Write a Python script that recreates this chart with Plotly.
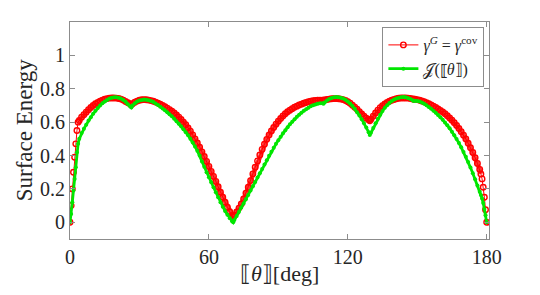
import plotly.graph_objects as go

# misorientation angle grid [deg]
theta_deg = [0, 0.5, 1, 1.5, 2, 2.5, 3, 3.5,
             4, 5, 6, 7, 8, 9, 10, 11, 12, 13, 14, 15, 16, 17, 18, 19, 20, 21, 22, 23, 24, 25, 26,
             26.5,
             27, 28, 29, 30, 31, 32, 33, 34, 35, 36, 37, 38, 39, 40, 41, 42, 43, 44, 45, 46, 47, 48,
             49, 50, 51, 52, 53, 54, 55, 56, 57, 58, 59, 60, 61, 62, 63, 64, 65, 66, 67, 68, 69, 70,
             70.5,
             71, 72, 73, 74, 75, 76, 77, 78, 79, 80, 81, 82, 83, 84, 85, 86, 87, 88, 89, 90, 91, 92,
             93, 94, 95, 96, 97, 98, 99, 100, 101, 102, 103, 104, 105, 106, 107, 108, 109,
             109.5,
             110, 111, 112, 113, 114, 115, 116, 117, 118, 119, 120, 121, 122, 123, 124, 125, 126, 127, 128, 129,
             129.5,
             130, 131, 132, 133, 134, 135, 136, 137, 138, 139, 140, 141, 142, 143, 144, 145, 146, 147, 148,
             148.5,
             149, 150, 151, 152, 153, 154, 155, 156, 157, 158, 159, 160, 161, 162, 163, 164, 165, 166, 167,
             168, 169, 170, 171, 172, 173, 174, 175, 176, 177,
             177.5, 178, 178.5, 179, 179.5, 180]

# gamma^G = gamma^cov (red)
gamma_cov = [0, 0.10, 0.20, 0.30, 0.39, 0.47, 0.55, 0.60,
             0.61, 0.63, 0.645, 0.66, 0.675, 0.688, 0.70, 0.71, 0.718, 0.725, 0.732, 0.737, 0.741, 0.744,
             0.745, 0.745, 0.744, 0.742, 0.738, 0.732, 0.724, 0.716, 0.709,
             0.705,
             0.711, 0.719, 0.726, 0.731, 0.734, 0.735, 0.734, 0.732, 0.729, 0.725, 0.72, 0.714, 0.707, 0.70,
             0.692, 0.684, 0.675, 0.665, 0.655, 0.643, 0.63, 0.616, 0.60, 0.585, 0.566, 0.546, 0.524, 0.50,
             0.475, 0.45, 0.422, 0.394, 0.365, 0.335, 0.305, 0.275, 0.245, 0.213, 0.18, 0.15, 0.12, 0.09,
             0.063, 0.04,
             0.03,
             0.042, 0.062, 0.085, 0.11, 0.14, 0.175, 0.21, 0.25, 0.29, 0.33, 0.368, 0.403, 0.437, 0.468,
             0.497, 0.523, 0.547, 0.568, 0.588, 0.606, 0.622, 0.637, 0.65, 0.662, 0.672, 0.681, 0.689,
             0.696, 0.703, 0.708, 0.713, 0.718, 0.722, 0.725, 0.728, 0.73, 0.731, 0.732, 0.731,
             0.731,
             0.733, 0.736, 0.738, 0.74, 0.741, 0.741, 0.74, 0.738, 0.735, 0.73, 0.722, 0.713, 0.702, 0.69,
             0.677, 0.663, 0.649, 0.636, 0.624, 0.614,
             0.608,
             0.618, 0.636, 0.655, 0.672, 0.687, 0.699, 0.709, 0.718, 0.725, 0.731, 0.736, 0.74, 0.743,
             0.745, 0.745, 0.745, 0.744, 0.742, 0.739,
             0.738,
             0.737, 0.735, 0.731, 0.727, 0.722, 0.716, 0.71, 0.703, 0.696, 0.688, 0.679, 0.67, 0.661,
             0.65, 0.638, 0.625, 0.611, 0.596, 0.58, 0.562, 0.543, 0.522, 0.499, 0.474, 0.447, 0.418,
             0.387, 0.353, 0.317,
             0.29, 0.26, 0.21, 0.15, 0.075, 0.0]

# J([theta]) (green)
J_theta = [0, 0.05, 0.12, 0.19, 0.26, 0.33, 0.42, 0.47,
           0.50, 0.535, 0.56, 0.585, 0.61, 0.63, 0.65, 0.668, 0.685, 0.70, 0.713, 0.724, 0.733, 0.741,
           0.746, 0.749, 0.749, 0.746, 0.741, 0.733, 0.722, 0.708, 0.694,
           0.688,
           0.70, 0.713, 0.723, 0.729, 0.733, 0.735, 0.734, 0.731, 0.726, 0.72, 0.712, 0.703, 0.693, 0.682,
           0.671, 0.66, 0.648, 0.635, 0.621, 0.606, 0.591, 0.575, 0.558, 0.54, 0.521, 0.50, 0.478, 0.454,
           0.428, 0.40, 0.365, 0.333, 0.30, 0.27, 0.24, 0.21, 0.18, 0.15, 0.12, 0.093, 0.068, 0.045,
           0.025, 0.007,
           0.0,
           0.014, 0.038, 0.063, 0.088, 0.113, 0.138, 0.163, 0.19, 0.216, 0.242, 0.268, 0.294, 0.32, 0.346,
           0.372, 0.398, 0.423, 0.447, 0.47, 0.492, 0.513, 0.533, 0.552, 0.57, 0.587, 0.603, 0.618,
           0.632, 0.645, 0.657, 0.668, 0.678, 0.687, 0.695, 0.701, 0.706, 0.71, 0.713, 0.713,
           0.711,
           0.718, 0.73, 0.739, 0.745, 0.749, 0.75, 0.749, 0.746, 0.741, 0.734, 0.724, 0.712, 0.697, 0.68,
           0.66, 0.64, 0.618, 0.594, 0.568, 0.54,
           0.523,
           0.537, 0.565, 0.593, 0.62, 0.645, 0.667, 0.686, 0.702, 0.715, 0.726, 0.735, 0.741, 0.746,
           0.749, 0.75, 0.749, 0.745, 0.739, 0.731,
           0.727,
           0.728, 0.727, 0.724, 0.718, 0.71, 0.701, 0.691, 0.68, 0.668, 0.656, 0.643, 0.629, 0.614,
           0.598, 0.581, 0.563, 0.543, 0.522, 0.499, 0.475, 0.449, 0.421, 0.392, 0.361, 0.328, 0.294,
           0.258, 0.221, 0.183,
           0.163, 0.143, 0.115, 0.08, 0.043, 0.0]

assert len(theta_deg) == len(gamma_cov) == len(J_theta), (len(theta_deg), len(gamma_cov), len(J_theta))

x_ticks = [0, 60, 120, 180]
y_ticks = [0, 0.2, 0.4, 0.6, 0.8, 1]
y_tick_labels = ["0", "0.2", "0.4", "0.6", "0.8", "1"]

RED = "#ff0000"
GREEN = "#00e600"
AXIS = "#8c8c8c"
TXT = "#262626"
SERIF = "Liberation Serif"

fig = go.Figure()
# dense marker band underneath the red series (same data, no legend entry)
fig.add_trace(go.Scatter(
    x=theta_deg[7:-5], y=gamma_cov[7:-5], mode="lines", showlegend=False, hoverinfo="skip",
    line=dict(color="rgba(255,0,0,0.8)", width=4.5),
))
fig.add_trace(go.Scatter(
    x=theta_deg, y=gamma_cov, mode="lines+markers",
    name="<i>γ</i><sup><i>G</i></sup> = <i>γ</i><sup>cov</sup>",
    line=dict(color=RED, width=1),
    marker=dict(symbol="circle-open", size=5.5, color=RED, line=dict(width=1.4, color=RED)),
))
fig.add_trace(go.Scatter(
    x=theta_deg, y=J_theta, mode="lines+markers",
    name="𝒥(⟦<i>θ</i>⟧)",
    line=dict(color=GREEN, width=2.8),
    marker=dict(symbol="circle", size=4, color=GREEN),
))

axis_common = dict(
    showgrid=False, zeroline=False, showline=True, linecolor=AXIS, linewidth=1,
    mirror="ticks", ticks="inside", ticklen=5, tickcolor=AXIS, tickwidth=1,
    tickfont=dict(family=SERIF, size=20, color=TXT),
)

# the page adds an 8px body margin, so the figure is 8px smaller than the window
fig.update_layout(
    width=532, height=287,
    margin=dict(l=62, r=51, t=14, b=56),
    paper_bgcolor="white", plot_bgcolor="white",
    xaxis=dict(range=[0, 181], tickvals=x_ticks, ticktext=[str(v) for v in x_ticks], **axis_common),
    yaxis=dict(range=[-0.1, 1.2], tickvals=y_ticks, ticktext=y_tick_labels, **axis_common),
    showlegend=True,
    legend=dict(
        x=0.989, xanchor="right", y=0.977, yanchor="top",
        bgcolor="white", bordercolor=AXIS, borderwidth=1,
        font=dict(family=SERIF, size=16, color=TXT),
        itemwidth=30, tracegroupgap=0,
    ),
    annotations=[
        dict(text="⟦<i>θ</i>⟧[deg]", xref="paper", yref="paper", x=0.5, y=-0.16,
             xanchor="center", yanchor="middle", showarrow=False,
             font=dict(family=SERIF, size=22, color=TXT)),
        dict(text="Surface Energy", xref="paper", yref="paper", x=-0.108, y=0.5,
             xanchor="center", yanchor="middle", textangle=-90, showarrow=False,
             font=dict(family=SERIF, size=23, color=TXT)),
    ],
)

fig.write_html("out.html")
